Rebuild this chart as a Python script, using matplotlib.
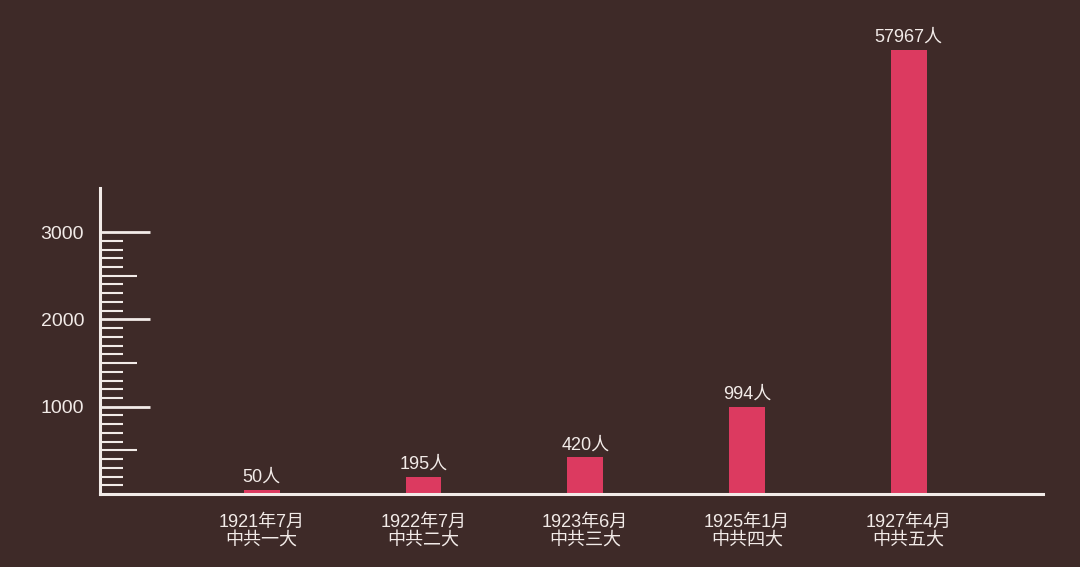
import matplotlib.pyplot as plt

plt.rcParams['font.family'] = ['Liberation Sans', 'Noto Sans CJK SC', 'DejaVu Sans']

# data
dates = ['1921年7月', '1922年7月', '1923年6月', '1925年1月', '1927年4月']
congresses = ['中共一大', '中共二大', '中共三大', '中共四大', '中共五大']
members = [50, 195, 420, 994, 57967]

bg = '#3e2a28'
bar_color = '#dc3a60'
fg = '#f2ebe8'

fig = plt.figure(figsize=(10.8, 5.67), dpi=100, facecolor=bg)
ax = fig.add_axes([100/1080, 73/567, 943/1080, 444/567])
ax.set_facecolor(bg)

x = list(range(len(members)))
ax.bar(x, members, width=0.22, color=bar_color, zorder=1)

ax.set_xlim(-1.0, 4.83)
ax.set_ylim(0, 5086)

# value labels (tall bar is cut at the top of the plot)
top = ax.get_ylim()[1]
for xi, v in zip(x, members):
    ax.annotate(f'{v}人', (xi, min(v, top)), xytext=(0, 3), textcoords='offset points',
                ha='center', va='bottom', color=fg, fontsize=13, annotation_clip=False)

# spines
for s in ['top', 'right']:
    ax.spines[s].set_visible(False)
for s in ['left', 'bottom']:
    ax.spines[s].set_color(fg)
    ax.spines[s].set_linewidth(2.2)
ax.spines['left'].set_bounds(0, 3500)

# x labels
ax.set_xticks(x)
ax.set_xticklabels([d + '\n' + c for d, c in zip(dates, congresses)], fontsize=13, color=fg,
                   linespacing=1.1)
ax.tick_params(axis='x', length=0, pad=14)

# ruler style y ticks
major = list(range(500, 3001, 500))
minor = [v for v in range(100, 3000, 100) if v % 500 != 0]
ax.set_yticks(major)
ax.set_yticklabels([str(v) if v % 1000 == 0 else '' for v in major], fontsize=14, color=fg)
ax.set_yticks(minor, minor=True)
ax.tick_params(axis='y', which='both', direction='in', color=fg, width=1.5, pad=11.5)
ax.tick_params(axis='y', which='minor', length=16.5)
for t, v in zip(ax.yaxis.get_major_ticks(), major):
    t.tick1line.set_markersize(36 if v % 1000 == 0 else 26.5)
    t.tick1line.set_markeredgewidth(2.0 if v % 1000 == 0 else 1.5)

fig.savefig('out.png', dpi=100, facecolor=bg)
